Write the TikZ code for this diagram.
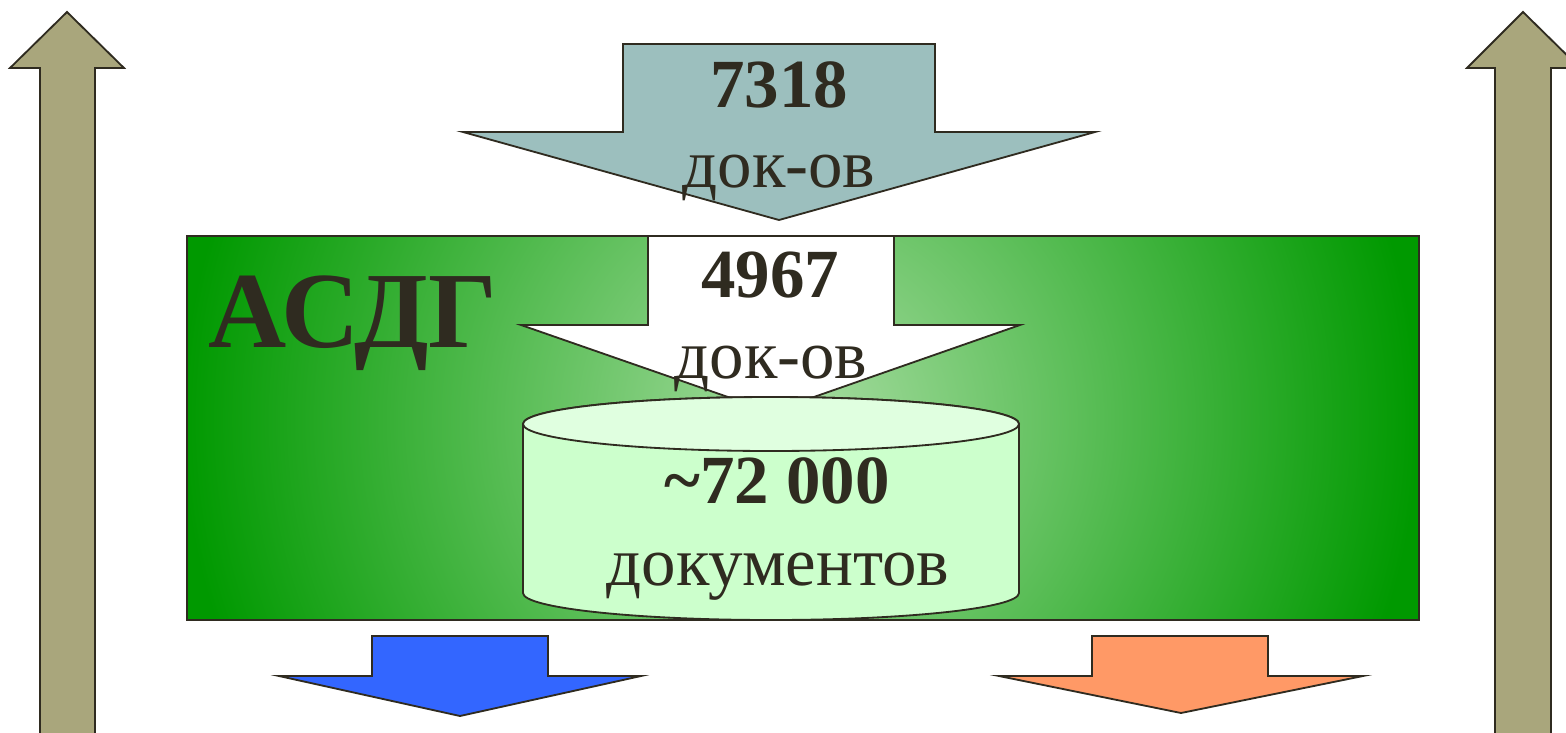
\documentclass[tikz,border=0pt]{standalone}
\usepackage{fontspec}
\setmainfont{Liberation Serif}

\definecolor{linedark}{HTML}{2F2B20}
\definecolor{khaki}{HTML}{A9A67C}
\definecolor{inflow}{HTML}{9CBFBE}
\definecolor{asdgdark}{HTML}{009900}
\definecolor{asdglight}{HTML}{A8DDA2}
\definecolor{dbbody}{HTML}{CCFFCC}
\definecolor{dbtop}{HTML}{E0FFE0}
\definecolor{outblue}{HTML}{3366FF}
\definecolor{outorange}{HTML}{FF9966}

\begin{document}
\begin{tikzpicture}[x=0.025cm,y=0.025cm,
    outline/.style={draw=linedark,line width=1.3pt,line join=miter},
    count/.style={font={\fontsize{49}{55}\selectfont\bfseries},
        text=linedark,anchor=base,inner sep=0pt},
    unit/.style={font={\fontsize{49}{55}\selectfont},
        text=linedark,anchor=base,inner sep=0pt},
    ]
    \useasboundingbox (0,0) rectangle (1566,-732);

    % Side arrows (up)
    \filldraw[outline,fill=khaki] (40,-760) -- (40,-68) -- (10,-68)
        -- (67,-12) -- (124,-68) -- (95,-68) -- (95,-760);
    \filldraw[outline,fill=khaki] (1495,-760) -- (1495,-68) -- (1467,-68)
        -- (1523,-12) -- (1580,-68) -- (1551,-68) -- (1551,-760);

    % Incoming documents
    \filldraw[outline,fill=inflow] (623,-44) -- (935,-44) -- (935,-132)
        -- (1095,-132) -- (779,-220) -- (463,-132) -- (623,-132) -- cycle;

    % ASDG block
    \fill[asdgdark] (187,-236) rectangle (1419,-620);
    \begin{scope}
        \clip (187,-236) rectangle (1419,-620);
        \shade[inner color=asdglight,outer color=asdgdark]
            (182,200) rectangle (1418,-1040);
    \end{scope}
    \draw[outline] (187,-236) rectangle (1419,-620);

    % Accepted documents
    \filldraw[outline,fill=white] (648,-236) -- (894,-236) -- (894,-325)
        -- (1020,-325) -- (771,-412) -- (521,-325) -- (648,-325) -- cycle;

    % Database cylinder
    \filldraw[outline,fill=dbbody] (523,-424) -- (523,-593)
        arc[start angle=180,end angle=360,x radius=248,y radius=27]
        -- (1019,-424)
        arc[start angle=0,end angle=180,x radius=248,y radius=27] -- cycle;
    \filldraw[outline,fill=dbtop] (771,-424) ellipse[x radius=248,y radius=27];

    % Outgoing arrows
    \filldraw[outline,fill=outblue] (372,-636) -- (548,-636) -- (548,-676)
        -- (641,-676) -- (460,-716) -- (279,-676) -- (372,-676) -- cycle;
    \filldraw[outline,fill=outorange] (1092,-636) -- (1268,-636) -- (1268,-676)
        -- (1363,-676) -- (1181,-713) -- (999,-676) -- (1092,-676) -- cycle;

    % Labels
    \node[count] (total) at (779,-107) {7318};
    \node[unit] (totalunit) at (779,-187) {док-ов};
    \node[count,font={\fontsize{77}{83}\selectfont\bfseries}]
        (asdg) at (353,-347) {АСДГ};
    \node[count] (accepted) at (770,-297) {4967};
    \node[unit] (acceptedunit) at (771,-378) {док-ов};
    \node[count] (stored) at (777,-503) {\textasciitilde72 000};
    \node[unit] (storedunit) at (778,-585) {документов};
\end{tikzpicture}
\end{document}
